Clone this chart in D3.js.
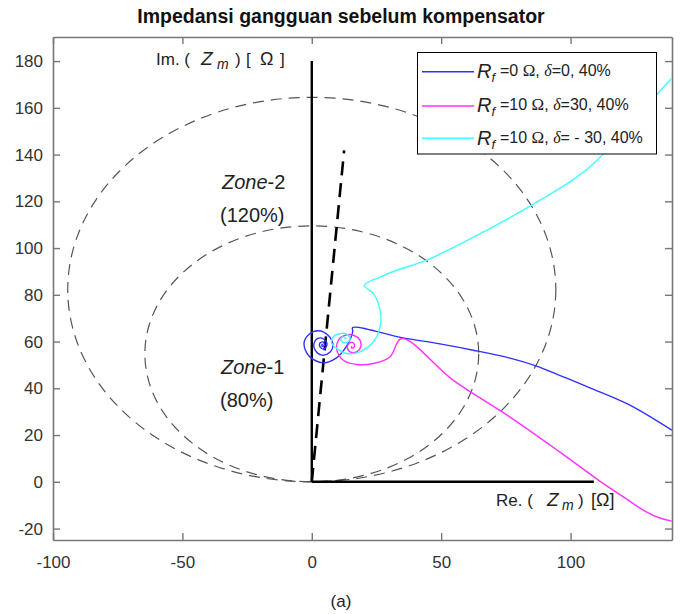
<!DOCTYPE html>
<html><head><meta charset="utf-8">
<script src="https://cdn.jsdelivr.net/npm/d3@7/dist/d3.min.js"></script>
<style>
body{margin:0;background:#fff;}
text{font-family:"Liberation Sans",Arial,sans-serif;fill:#222;}
</style></head>
<body><svg id="c" width="681" height="614"></svg>
<script>
// ---------- data ----------
const xTicks = [-100, -50, 0, 50, 100];
const yTicks = [-20, 0, 20, 40, 60, 80, 100, 120, 140, 160, 180];
const xDomain = [-100, 139.2];
const yDomain = [-24.9, 190.3];

// zone reach (diameter along imaginary axis, ohm) and horizontal half-width as drawn
const zoneReach = [109.5, 164.5];          // Zone-1 (80%), Zone-2 (120%)
const zoneHalfWidth = [64.5, 94.3];
const lineAngleEnd = [12.5, 141.8];        // end of dashed line impedance
const imAxisEnd = [0, 180];
const reAxisEnd = [109, 0];

// trajectories [Re, Im]
const blueZ = [[139.1,22.1],[122.2,33.2],[107.5,40.2],[97,45.0],[86.9,49.5],[76.6,52.9],[62.4,56.3],[49.5,59.0],[34.7,61.7],[15.8,66.0],
  [15.8,64.1],[13.2,57.6],[9.4,52.9],[4.4,50.9],[-1.0,53.7],[-3.0,59.3],[-1.0,63.1],[2.4,64.6],[6.3,62.7],[8.2,58.4],
  [7.1,55.5],[4.0,54.2],[1.3,56.3],[0.9,59.3],[2.4,61.4],[4.7,61.0],[5.9,58.9],[4.7,56.8],[3.2,57.7],[3.2,59.4],
  [4.4,59.8],[4.9,58.4],[4.0,58.0],[4.0,58.8],[4.3,58.7]];
const magentaZ = [[139.1,-16.8],[134.5,-15.5],[128.7,-12.5],[121.0,-6.9],[111.3,0.3],[95.9,12.7],[76.6,27.7],[54.6,43.5],[34.7,61.3],
  [30.2,53.4],[23.8,50.6],[17.4,50.2],[12.2,52.0],[9.7,56.3],[10.3,60.6],[12.9,62.7],[16.1,62.7],[18.6,60.6],[18.9,57.7],
  [17.4,55.6],[14.8,55.6],[13.7,57.7],[14.8,59.6],[16.3,59.2],[16.3,57.5],[15.4,57.3],[15.4,58.1]];
const cyanZ = [[141,174.5],[139.1,172.6],[130.6,162.3],[119.0,148.2],[110.2,137.5],[101.7,129.8],[88.1,120.4],[67.6,107.6],[44.4,94.8],[32.8,90.5],
  [26.4,87.6],[20.3,84.1],[23.8,80.5],[26.4,73.4],[26.4,66.3],[23.8,59.9],[18.6,55.6],[13.5,54.9],[9.7,57.0],[7.7,59.2],
  [8.3,62.0],[10.9,63.4],[13.7,63.1],[14.8,61.3],[14.1,59.9],[12.2,59.6],[11.2,60.9],[12.2,62.0],[13.2,61.3],[12.6,61.3]];

const seriesColors = ["#3030ff", "#ff30ff", "#40ffff"];
const legendRf = ["=0", "=10", "=10"];
const legendDelta = ["=0, 40%", "=30, 40%", "= - 30, 40%"];

// ---------- chart ----------
const svg = d3.select("#c");
const L = 53, R = 672, T = 37, B = 540;
const x = d3.scaleLinear().domain(xDomain).range([L, R]);
const y = d3.scaleLinear().domain(yDomain).range([B, T]);

svg.append("defs").append("clipPath").attr("id","clip")
  .append("rect").attr("x",L).attr("y",T).attr("width",R-L).attr("height",B-T);

// title
svg.append("text").attr("x",341).attr("y",23).attr("text-anchor","middle")
  .style("font-weight","bold").style("font-size","19.5px").style("fill","#111")
  .text("Impedansi gangguan sebelum kompensator");

// axes
const axColor = "#777";
function styleAxis(g){
  g.select(".domain").attr("stroke",axColor).attr("stroke-width",1.6);
  g.selectAll(".tick line").attr("stroke",axColor).attr("stroke-width",1.4);
  g.selectAll(".tick text").style("font-size","17px").style("fill","#333")
    .style("font-family",'"Liberation Sans",Arial,sans-serif');
}
const fmt = d => String(d);
svg.append("g").attr("transform",`translate(0,${B})`)
  .call(d3.axisBottom(x).tickValues(xTicks).tickFormat(fmt).tickSizeInner(-7).tickSizeOuter(0).tickPadding(16))
  .call(styleAxis);
svg.append("g").attr("transform",`translate(${L},0)`)
  .call(d3.axisLeft(y).tickValues(yTicks).tickFormat(fmt).tickSizeInner(-7).tickSizeOuter(0).tickPadding(10))
  .call(styleAxis);
svg.append("g").attr("transform",`translate(0,${T})`)
  .call(d3.axisTop(x).tickValues(xTicks).tickSizeInner(-7).tickSizeOuter(0).tickFormat(""))
  .call(styleAxis);
svg.append("g").attr("transform",`translate(${R},0)`)
  .call(d3.axisRight(y).tickValues(yTicks).tickSizeInner(-7).tickSizeOuter(0).tickFormat(""))
  .call(styleAxis);

const plot = svg.append("g").attr("clip-path","url(#clip)");

// zone circles
zoneReach.forEach((D,i) => {
  plot.append("ellipse")
    .attr("cx", x(0)).attr("cy", y(D/2))
    .attr("rx", x(zoneHalfWidth[i]) - x(0)).attr("ry", y(0) - y(D/2))
    .attr("fill","none").attr("stroke","#555").attr("stroke-width",1.2)
    .attr("stroke-dasharray","11,7");
});

// axes of impedance plane
plot.append("line").attr("x1",x(0)).attr("y1",y(0)).attr("x2",x(imAxisEnd[0])).attr("y2",y(imAxisEnd[1]))
  .attr("stroke","#000").attr("stroke-width",2.4);
plot.append("line").attr("x1",x(0)).attr("y1",y(0)).attr("x2",x(reAxisEnd[0])).attr("y2",y(reAxisEnd[1]))
  .attr("stroke","#000").attr("stroke-width",2.4);
plot.append("line").attr("x1",x(0)).attr("y1",y(0)).attr("x2",x(lineAngleEnd[0])).attr("y2",y(lineAngleEnd[1]))
  .attr("stroke","#000").attr("stroke-width",2.6).attr("stroke-dasharray","14,8");

// trajectories
const line = d3.line().x(d=>x(d[0])).y(d=>y(d[1])).curve(d3.curveCatmullRom.alpha(0.5));
[blueZ, magentaZ, cyanZ].forEach((s,i) => {
  plot.append("path").attr("d", line(s)).attr("fill","none")
    .attr("stroke", seriesColors[i]).attr("stroke-width",1.4);
});

// annotation labels
function lab(xp, yp, txt, opts={}){
  const t = svg.append("text").attr("x",xp).attr("y",yp).text(txt)
    .style("font-size",(opts.size||17)+"px");
  if(opts.italic) t.style("font-style","italic");
  return t;
}
// Im label
lab(156,65,"Im. (",{size:17});
lab(201,65,"Z",{size:19,italic:true});
lab(217,69,"m",{size:14,italic:true});
lab(235,65,")",{size:17});
lab(246,65,"[",{size:17});
lab(260,65,"Ω",{size:18});
lab(280,65,"]",{size:17});
// Re label
lab(496,506,"Re. (",{size:17});
lab(547,506,"Z",{size:19,italic:true});
lab(562,510,"m",{size:14,italic:true});
lab(578,506,")",{size:17});
lab(591,506,"[Ω]",{size:18});
// zone labels
function zone(xp, yp, n){
  const t = svg.append("text").attr("x",xp).attr("y",yp).style("font-size","20px");
  t.append("tspan").style("font-style","italic").text("Zone");
  t.append("tspan").text("-" + n);
}
zone(222,189,"2");
lab(220,222,"(120%)",{size:20});
zone(221,374,"1");
lab(220,407,"(80%)",{size:20});

// legend
const lg = svg.append("g");
lg.append("rect").attr("x",417.5).attr("y",52.5).attr("width",239).attr("height",101.5)
  .attr("fill","#fff").attr("stroke","#000").attr("stroke-width",1);
const rowY = [71.7, 106, 138.3];
const rowB = [78, 111.7, 145];
seriesColors.forEach((c,i) => {
  lg.append("line").attr("x1",422).attr("x2",474).attr("y1",rowY[i]).attr("y2",rowY[i])
    .attr("stroke",c).attr("stroke-width",1.4);
  lg.append("text").attr("x",477).attr("y",rowB[i]).style("font-style","italic").style("font-size","20px").text("R");
  lg.append("text").attr("x",491.5).attr("y",rowB[i]+4).style("font-style","italic").style("font-size","13px").text("f");
  const t = lg.append("text").attr("x",500).attr("y",rowB[i]-2).style("font-size","16px");
  t.append("tspan").text(legendRf[i] + " ");
  t.append("tspan").style("font-family",'"Liberation Serif",serif').style("font-size","17px").text("Ω");
  t.append("tspan").text(", ");
  t.append("tspan").style("font-family",'"Liberation Serif",serif').style("font-style","italic").text("δ");
  t.append("tspan").text(legendDelta[i]);
});

// caption
svg.append("text").attr("x",341).attr("y",607).attr("text-anchor","middle").style("font-size","17px").text("(a)");
</script></body></html>
